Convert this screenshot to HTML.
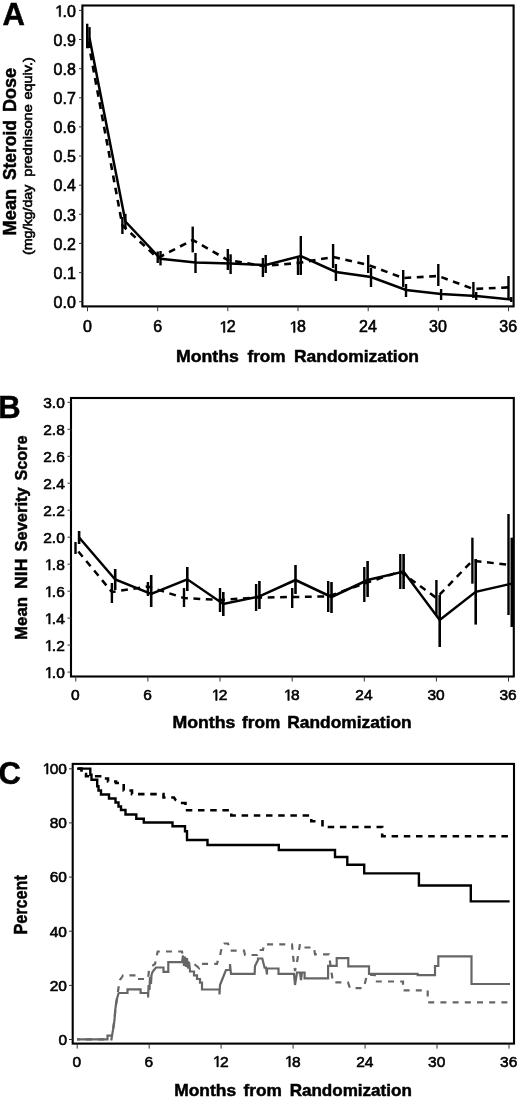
<!DOCTYPE html>
<html><head><meta charset="utf-8"><title>Figure</title>
<style>
html,body{margin:0;padding:0;background:#fff;}
svg{display:block;}
text{font-family:"Liberation Sans", sans-serif;fill:#000;}
.r{stroke:#000;stroke-width:0.6px;}
.b{stroke:#000;stroke-width:0.5px;}
</style></head>
<body>
<svg width="520" height="1097" viewBox="0 0 520 1097">
<defs><filter id="soft" x="0" y="0" width="520" height="1097" filterUnits="userSpaceOnUse"><feGaussianBlur stdDeviation="0.4"/></filter></defs>
<rect x="0" y="0" width="520" height="1097" fill="#fff"/>
<g filter="url(#soft)">
<rect x="82.4" y="5.5" width="431.2" height="300.9" fill="none" stroke="#000" stroke-width="2.1"/>
<line x1="79.0" y1="301.7" x2="82.4" y2="301.7" stroke="#333" stroke-width="1" />
<text x="75.8" y="307.9" font-size="16" text-anchor="end" class="r">0.0</text>
<line x1="79.0" y1="272.6" x2="82.4" y2="272.6" stroke="#333" stroke-width="1" />
<text x="75.8" y="278.8" font-size="16" text-anchor="end" class="r">0.1</text>
<line x1="79.0" y1="243.4" x2="82.4" y2="243.4" stroke="#333" stroke-width="1" />
<text x="75.8" y="249.6" font-size="16" text-anchor="end" class="r">0.2</text>
<line x1="79.0" y1="214.3" x2="82.4" y2="214.3" stroke="#333" stroke-width="1" />
<text x="75.8" y="220.5" font-size="16" text-anchor="end" class="r">0.3</text>
<line x1="79.0" y1="185.2" x2="82.4" y2="185.2" stroke="#333" stroke-width="1" />
<text x="75.8" y="191.4" font-size="16" text-anchor="end" class="r">0.4</text>
<line x1="79.0" y1="156.0" x2="82.4" y2="156.0" stroke="#333" stroke-width="1" />
<text x="75.8" y="162.2" font-size="16" text-anchor="end" class="r">0.5</text>
<line x1="79.0" y1="126.9" x2="82.4" y2="126.9" stroke="#333" stroke-width="1" />
<text x="75.8" y="133.1" font-size="16" text-anchor="end" class="r">0.6</text>
<line x1="79.0" y1="97.8" x2="82.4" y2="97.8" stroke="#333" stroke-width="1" />
<text x="75.8" y="104.0" font-size="16" text-anchor="end" class="r">0.7</text>
<line x1="79.0" y1="68.7" x2="82.4" y2="68.7" stroke="#333" stroke-width="1" />
<text x="75.8" y="74.9" font-size="16" text-anchor="end" class="r">0.8</text>
<line x1="79.0" y1="39.5" x2="82.4" y2="39.5" stroke="#333" stroke-width="1" />
<text x="75.8" y="45.7" font-size="16" text-anchor="end" class="r">0.9</text>
<line x1="79.0" y1="10.4" x2="82.4" y2="10.4" stroke="#333" stroke-width="1" />
<path d="M515 0V1237L197 1010V1180L530 1409H696V0Z" transform="translate(55.16,16.60) scale(0.007812,-0.007812)" fill="#000" stroke="#000" stroke-width="76.8"/>
<text x="62.46" y="16.6" font-size="16" class="r">.0</text>
<line x1="87.5" y1="306.4" x2="87.5" y2="311.2" stroke="#333" stroke-width="1" />
<text x="87.5" y="332.4" font-size="16" text-anchor="middle" class="r">0</text>
<line x1="157.7" y1="306.4" x2="157.7" y2="311.2" stroke="#333" stroke-width="1" />
<text x="157.7" y="332.4" font-size="16" text-anchor="middle" class="r">6</text>
<line x1="227.8" y1="306.4" x2="227.8" y2="311.2" stroke="#333" stroke-width="1" />
<path d="M515 0V1237L197 1010V1180L530 1409H696V0Z" transform="translate(219.43,332.40) scale(0.007812,-0.007812)" fill="#000" stroke="#000" stroke-width="76.8"/>
<text x="226.73" y="332.4" font-size="16" class="r">2</text>
<line x1="298.0" y1="306.4" x2="298.0" y2="311.2" stroke="#333" stroke-width="1" />
<path d="M515 0V1237L197 1010V1180L530 1409H696V0Z" transform="translate(289.59,332.40) scale(0.007812,-0.007812)" fill="#000" stroke="#000" stroke-width="76.8"/>
<text x="296.89" y="332.4" font-size="16" class="r">8</text>
<line x1="368.2" y1="306.4" x2="368.2" y2="311.2" stroke="#333" stroke-width="1" />
<text x="367.9" y="332.4" font-size="16" text-anchor="middle" class="r">24</text>
<line x1="438.3" y1="306.4" x2="438.3" y2="311.2" stroke="#333" stroke-width="1" />
<text x="438.0" y="332.4" font-size="16" text-anchor="middle" class="r">30</text>
<line x1="508.5" y1="306.4" x2="508.5" y2="311.2" stroke="#333" stroke-width="1" />
<text x="508.2" y="332.4" font-size="16" text-anchor="middle" class="r">36</text>
<text x="2.6" y="24.5" font-size="31" font-weight="bold" text-anchor="start" class="b">A</text>
<text x="176.02" y="361.90" font-size="17" font-weight="bold" textLength="62.91" lengthAdjust="spacingAndGlyphs" class="b">Months</text>
<text x="247.41" y="361.90" font-size="17" font-weight="bold" textLength="38.26" lengthAdjust="spacingAndGlyphs" class="b">from</text>
<text x="293.93" y="361.90" font-size="17" font-weight="bold" textLength="125.05" lengthAdjust="spacingAndGlyphs" class="b">Randomization</text>
<text transform="translate(15.80,234.20) rotate(-90)" x="-1.22" y="0" font-size="17.8" font-weight="bold" textLength="46.55" lengthAdjust="spacingAndGlyphs" class="b">Mean</text>
<text transform="translate(15.80,179.60) rotate(-90)" x="-0.50" y="0" font-size="17.8" font-weight="bold" textLength="60.05" lengthAdjust="spacingAndGlyphs" class="b">Steroid</text>
<text transform="translate(15.80,110.80) rotate(-90)" x="-1.21" y="0" font-size="17.8" font-weight="bold" textLength="44.12" lengthAdjust="spacingAndGlyphs" class="b">Dose</text>
<text transform="translate(32.20,254.20) rotate(-90)" x="-0.88" y="0" font-size="13.3" font-weight="normal" textLength="70.51" lengthAdjust="spacingAndGlyphs" class="r">(mg/kg/day</text>
<text transform="translate(32.20,175.80) rotate(-90)" x="-0.95" y="0" font-size="13.3" font-weight="normal" textLength="72.70" lengthAdjust="spacingAndGlyphs" class="r">prednisone</text>
<text transform="translate(32.20,99.00) rotate(-90)" x="-0.60" y="0" font-size="13.3" font-weight="normal" textLength="42.38" lengthAdjust="spacingAndGlyphs" class="r">equiv.)</text>
<polyline points="87.2,36.0 122.4,225.5 157.7,258.0 192.7,240.0 227.8,260.0 262.9,266.0 298.0,263.0 333.1,257.0 368.2,265.0 403.2,278.0 438.3,276.0 473.4,289.0 508.5,287.4" fill="none" stroke="#000" stroke-width="2.6" stroke-dasharray="6.8 5.6" stroke-linejoin="miter" stroke-linecap="butt" stroke-dashoffset="6.93"/>
<polyline points="89.5,38.0 125.4,221.5 160.5,258.8 195.5,262.4 230.6,263.5 265.7,265.0 300.8,256.0 335.9,272.0 371.0,277.0 406.0,290.0 441.1,294.0 476.2,296.0 511.3,299.4" fill="none" stroke="#000" stroke-width="2.5" stroke-linejoin="miter" stroke-linecap="butt" />
<line x1="87.2" y1="23.7" x2="87.2" y2="48.3" stroke="#000" stroke-width="2.4" />
<line x1="122.4" y1="217.0" x2="122.4" y2="234.0" stroke="#000" stroke-width="2.4" />
<line x1="157.7" y1="251.5" x2="157.7" y2="263.0" stroke="#000" stroke-width="2.4" />
<line x1="192.7" y1="226.6" x2="192.7" y2="252.4" stroke="#000" stroke-width="2.4" />
<line x1="227.8" y1="249.0" x2="227.8" y2="270.0" stroke="#000" stroke-width="2.4" />
<line x1="262.9" y1="258.0" x2="262.9" y2="277.0" stroke="#000" stroke-width="2.4" />
<line x1="298.0" y1="258.0" x2="298.0" y2="275.0" stroke="#000" stroke-width="2.4" />
<line x1="333.1" y1="244.0" x2="333.1" y2="268.0" stroke="#000" stroke-width="2.4" />
<line x1="368.2" y1="255.0" x2="368.2" y2="273.0" stroke="#000" stroke-width="2.4" />
<line x1="403.2" y1="270.0" x2="403.2" y2="287.0" stroke="#000" stroke-width="2.4" />
<line x1="438.3" y1="264.0" x2="438.3" y2="286.0" stroke="#000" stroke-width="2.4" />
<line x1="473.4" y1="282.0" x2="473.4" y2="298.0" stroke="#000" stroke-width="2.4" />
<line x1="508.5" y1="276.0" x2="508.5" y2="300.0" stroke="#000" stroke-width="2.4" />
<line x1="89.5" y1="27.1" x2="89.5" y2="47.0" stroke="#000" stroke-width="2.4" />
<line x1="125.4" y1="213.8" x2="125.4" y2="229.0" stroke="#000" stroke-width="2.4" />
<line x1="160.5" y1="251.0" x2="160.5" y2="265.4" stroke="#000" stroke-width="2.4" />
<line x1="195.5" y1="253.0" x2="195.5" y2="273.0" stroke="#000" stroke-width="2.4" />
<line x1="230.6" y1="254.3" x2="230.6" y2="274.0" stroke="#000" stroke-width="2.4" />
<line x1="265.7" y1="255.0" x2="265.7" y2="273.0" stroke="#000" stroke-width="2.4" />
<line x1="300.8" y1="236.0" x2="300.8" y2="275.0" stroke="#000" stroke-width="2.4" />
<line x1="335.9" y1="264.0" x2="335.9" y2="281.0" stroke="#000" stroke-width="2.4" />
<line x1="371.0" y1="268.0" x2="371.0" y2="287.0" stroke="#000" stroke-width="2.4" />
<line x1="406.0" y1="284.0" x2="406.0" y2="297.0" stroke="#000" stroke-width="2.4" />
<line x1="441.1" y1="289.0" x2="441.1" y2="300.0" stroke="#000" stroke-width="2.4" />
<line x1="476.2" y1="292.0" x2="476.2" y2="300.0" stroke="#000" stroke-width="2.4" />
<line x1="511.3" y1="297.0" x2="511.3" y2="302.0" stroke="#000" stroke-width="2.4" />
<rect x="71" y="398" width="442.8" height="278.5" fill="none" stroke="#000" stroke-width="2.1"/>
<line x1="67.5" y1="672.1" x2="71.0" y2="672.1" stroke="#333" stroke-width="1" />
<path d="M515 0V1237L197 1010V1180L530 1409H696V0Z" transform="translate(44.85,678.00) scale(0.007568,-0.007568)" fill="#000" stroke="#000" stroke-width="79.3"/>
<text x="51.87" y="678.0" font-size="15.5" class="r">.0</text>
<line x1="67.5" y1="645.1" x2="71.0" y2="645.1" stroke="#333" stroke-width="1" />
<path d="M515 0V1237L197 1010V1180L530 1409H696V0Z" transform="translate(44.85,651.02) scale(0.007568,-0.007568)" fill="#000" stroke="#000" stroke-width="79.3"/>
<text x="51.87" y="651.0" font-size="15.5" class="r">.2</text>
<line x1="67.5" y1="618.1" x2="71.0" y2="618.1" stroke="#333" stroke-width="1" />
<path d="M515 0V1237L197 1010V1180L530 1409H696V0Z" transform="translate(44.85,624.04) scale(0.007568,-0.007568)" fill="#000" stroke="#000" stroke-width="79.3"/>
<text x="51.87" y="624.0" font-size="15.5" class="r">.4</text>
<line x1="67.5" y1="591.2" x2="71.0" y2="591.2" stroke="#333" stroke-width="1" />
<path d="M515 0V1237L197 1010V1180L530 1409H696V0Z" transform="translate(44.85,597.06) scale(0.007568,-0.007568)" fill="#000" stroke="#000" stroke-width="79.3"/>
<text x="51.87" y="597.1" font-size="15.5" class="r">.6</text>
<line x1="67.5" y1="564.2" x2="71.0" y2="564.2" stroke="#333" stroke-width="1" />
<path d="M515 0V1237L197 1010V1180L530 1409H696V0Z" transform="translate(44.85,570.08) scale(0.007568,-0.007568)" fill="#000" stroke="#000" stroke-width="79.3"/>
<text x="51.87" y="570.1" font-size="15.5" class="r">.8</text>
<line x1="67.5" y1="537.2" x2="71.0" y2="537.2" stroke="#333" stroke-width="1" />
<text x="64.8" y="543.1" font-size="15.5" text-anchor="end" class="r">2.0</text>
<line x1="67.5" y1="510.2" x2="71.0" y2="510.2" stroke="#333" stroke-width="1" />
<text x="64.8" y="516.1" font-size="15.5" text-anchor="end" class="r">2.2</text>
<line x1="67.5" y1="483.2" x2="71.0" y2="483.2" stroke="#333" stroke-width="1" />
<text x="64.8" y="489.1" font-size="15.5" text-anchor="end" class="r">2.4</text>
<line x1="67.5" y1="456.3" x2="71.0" y2="456.3" stroke="#333" stroke-width="1" />
<text x="64.8" y="462.2" font-size="15.5" text-anchor="end" class="r">2.6</text>
<line x1="67.5" y1="429.3" x2="71.0" y2="429.3" stroke="#333" stroke-width="1" />
<text x="64.8" y="435.2" font-size="15.5" text-anchor="end" class="r">2.8</text>
<line x1="67.5" y1="402.3" x2="71.0" y2="402.3" stroke="#333" stroke-width="1" />
<text x="64.8" y="408.2" font-size="15.5" text-anchor="end" class="r">3.0</text>
<line x1="75.8" y1="676.5" x2="75.8" y2="681.5" stroke="#333" stroke-width="1" />
<text x="75.4" y="700.4" font-size="15.5" text-anchor="middle" class="r">0</text>
<line x1="147.9" y1="676.5" x2="147.9" y2="681.5" stroke="#333" stroke-width="1" />
<text x="147.5" y="700.4" font-size="15.5" text-anchor="middle" class="r">6</text>
<line x1="220.0" y1="676.5" x2="220.0" y2="681.5" stroke="#333" stroke-width="1" />
<path d="M515 0V1237L197 1010V1180L530 1409H696V0Z" transform="translate(211.82,700.40) scale(0.007568,-0.007568)" fill="#000" stroke="#000" stroke-width="79.3"/>
<text x="218.84" y="700.4" font-size="15.5" class="r">2</text>
<line x1="292.2" y1="676.5" x2="292.2" y2="681.5" stroke="#333" stroke-width="1" />
<path d="M515 0V1237L197 1010V1180L530 1409H696V0Z" transform="translate(283.94,700.40) scale(0.007568,-0.007568)" fill="#000" stroke="#000" stroke-width="79.3"/>
<text x="290.96" y="700.4" font-size="15.5" class="r">8</text>
<line x1="364.3" y1="676.5" x2="364.3" y2="681.5" stroke="#333" stroke-width="1" />
<text x="363.9" y="700.4" font-size="15.5" text-anchor="middle" class="r">24</text>
<line x1="436.4" y1="676.5" x2="436.4" y2="681.5" stroke="#333" stroke-width="1" />
<text x="436.0" y="700.4" font-size="15.5" text-anchor="middle" class="r">30</text>
<line x1="508.5" y1="676.5" x2="508.5" y2="681.5" stroke="#333" stroke-width="1" />
<text x="508.1" y="700.4" font-size="15.5" text-anchor="middle" class="r">36</text>
<text x="-1.8" y="418.0" font-size="31" font-weight="bold" text-anchor="start" class="b">B</text>
<text x="172.42" y="728.10" font-size="17" font-weight="bold" textLength="62.91" lengthAdjust="spacingAndGlyphs" class="b">Months</text>
<text x="242.01" y="728.10" font-size="17" font-weight="bold" textLength="38.26" lengthAdjust="spacingAndGlyphs" class="b">from</text>
<text x="287.34" y="728.10" font-size="17" font-weight="bold" textLength="124.34" lengthAdjust="spacingAndGlyphs" class="b">Randomization</text>
<text transform="translate(26.90,638.80) rotate(-90)" x="-1.12" y="0" font-size="17" font-weight="bold" textLength="42.86" lengthAdjust="spacingAndGlyphs" class="b">Mean</text>
<text transform="translate(26.90,587.80) rotate(-90)" x="-1.18" y="0" font-size="17" font-weight="bold" textLength="30.37" lengthAdjust="spacingAndGlyphs" class="b">NIH</text>
<text transform="translate(26.90,551.00) rotate(-90)" x="-0.47" y="0" font-size="17" font-weight="bold" textLength="64.16" lengthAdjust="spacingAndGlyphs" class="b">Severity</text>
<text transform="translate(26.90,480.00) rotate(-90)" x="-0.46" y="0" font-size="17" font-weight="bold" textLength="44.82" lengthAdjust="spacingAndGlyphs" class="b">Score</text>
<polyline points="75.5,548.0 111.9,592.0 147.9,586.5 184.0,598.0 220.0,600.0 256.1,597.6 292.2,597.0 328.2,596.4 364.3,583.5 400.3,571.6 436.4,598.0 472.4,560.7 508.5,564.8" fill="none" stroke="#000" stroke-width="2.5" stroke-dasharray="6.8 5.6" stroke-linejoin="miter" stroke-linecap="butt" stroke-dashoffset="7.94"/>
<polyline points="79.1,537.5 115.2,579.5 151.2,594.0 187.3,579.3 223.3,604.0 259.4,596.4 295.5,580.0 331.5,597.0 367.6,580.0 403.6,571.6 439.7,620.0 475.7,591.8 511.8,583.6" fill="none" stroke="#000" stroke-width="2.5" stroke-linejoin="miter" stroke-linecap="butt" />
<line x1="75.5" y1="542.0" x2="75.5" y2="554.0" stroke="#000" stroke-width="2.4" />
<line x1="111.9" y1="583.0" x2="111.9" y2="603.0" stroke="#000" stroke-width="2.4" />
<line x1="147.9" y1="582.0" x2="147.9" y2="596.0" stroke="#000" stroke-width="2.4" />
<line x1="184.0" y1="588.0" x2="184.0" y2="607.0" stroke="#000" stroke-width="2.4" />
<line x1="220.0" y1="588.0" x2="220.0" y2="612.0" stroke="#000" stroke-width="2.4" />
<line x1="256.1" y1="584.0" x2="256.1" y2="611.0" stroke="#000" stroke-width="2.4" />
<line x1="292.2" y1="588.0" x2="292.2" y2="608.0" stroke="#000" stroke-width="2.4" />
<line x1="328.2" y1="581.0" x2="328.2" y2="612.0" stroke="#000" stroke-width="2.4" />
<line x1="364.3" y1="567.0" x2="364.3" y2="602.0" stroke="#000" stroke-width="2.4" />
<line x1="400.3" y1="554.0" x2="400.3" y2="589.0" stroke="#000" stroke-width="2.4" />
<line x1="436.4" y1="580.0" x2="436.4" y2="616.0" stroke="#000" stroke-width="2.4" />
<line x1="472.4" y1="537.7" x2="472.4" y2="583.7" stroke="#000" stroke-width="2.4" />
<line x1="508.5" y1="514.0" x2="508.5" y2="615.0" stroke="#000" stroke-width="2.4" />
<line x1="79.1" y1="531.0" x2="79.1" y2="544.0" stroke="#000" stroke-width="2.6" />
<line x1="115.2" y1="569.0" x2="115.2" y2="590.0" stroke="#000" stroke-width="2.6" />
<line x1="151.2" y1="575.0" x2="151.2" y2="607.0" stroke="#000" stroke-width="2.6" />
<line x1="187.3" y1="567.0" x2="187.3" y2="591.0" stroke="#000" stroke-width="2.6" />
<line x1="223.3" y1="592.0" x2="223.3" y2="616.0" stroke="#000" stroke-width="2.6" />
<line x1="259.4" y1="581.0" x2="259.4" y2="609.0" stroke="#000" stroke-width="2.6" />
<line x1="295.5" y1="565.0" x2="295.5" y2="594.0" stroke="#000" stroke-width="2.6" />
<line x1="331.5" y1="582.0" x2="331.5" y2="613.0" stroke="#000" stroke-width="2.6" />
<line x1="367.6" y1="561.0" x2="367.6" y2="597.0" stroke="#000" stroke-width="2.6" />
<line x1="403.6" y1="554.0" x2="403.6" y2="589.0" stroke="#000" stroke-width="2.6" />
<line x1="439.7" y1="595.0" x2="439.7" y2="647.0" stroke="#000" stroke-width="2.6" />
<line x1="475.7" y1="559.0" x2="475.7" y2="624.6" stroke="#000" stroke-width="2.6" />
<line x1="511.8" y1="537.7" x2="511.8" y2="627.0" stroke="#000" stroke-width="2.6" />
<rect x="72.7" y="763.9" width="441.3" height="279.7" fill="none" stroke="#000" stroke-width="2.1"/>
<line x1="69.0" y1="1039.5" x2="72.7" y2="1039.5" stroke="#333" stroke-width="1" />
<text x="67.0" y="1044.8" font-size="15.5" text-anchor="end" class="r">0</text>
<line x1="69.0" y1="985.4" x2="72.7" y2="985.4" stroke="#333" stroke-width="1" />
<text x="67.0" y="990.7" font-size="15.5" text-anchor="end" class="r">20</text>
<line x1="69.0" y1="931.2" x2="72.7" y2="931.2" stroke="#333" stroke-width="1" />
<text x="67.0" y="936.5" font-size="15.5" text-anchor="end" class="r">40</text>
<line x1="69.0" y1="877.1" x2="72.7" y2="877.1" stroke="#333" stroke-width="1" />
<text x="67.0" y="882.4" font-size="15.5" text-anchor="end" class="r">60</text>
<line x1="69.0" y1="822.9" x2="72.7" y2="822.9" stroke="#333" stroke-width="1" />
<text x="67.0" y="828.2" font-size="15.5" text-anchor="end" class="r">80</text>
<line x1="69.0" y1="768.8" x2="72.7" y2="768.8" stroke="#333" stroke-width="1" />
<path d="M515 0V1237L197 1010V1180L530 1409H696V0Z" transform="translate(42.74,774.10) scale(0.007568,-0.007568)" fill="#000" stroke="#000" stroke-width="79.3"/>
<text x="49.76" y="774.1" font-size="15.5" class="r">00</text>
<line x1="77.2" y1="1043.6" x2="77.2" y2="1048.6" stroke="#333" stroke-width="1" />
<text x="76.9" y="1066.9" font-size="15.5" text-anchor="middle" class="r">0</text>
<line x1="149.2" y1="1043.6" x2="149.2" y2="1048.6" stroke="#333" stroke-width="1" />
<text x="148.9" y="1066.9" font-size="15.5" text-anchor="middle" class="r">6</text>
<line x1="221.1" y1="1043.6" x2="221.1" y2="1048.6" stroke="#333" stroke-width="1" />
<path d="M515 0V1237L197 1010V1180L530 1409H696V0Z" transform="translate(213.01,1066.90) scale(0.007568,-0.007568)" fill="#000" stroke="#000" stroke-width="79.3"/>
<text x="220.03" y="1066.9" font-size="15.5" class="r">2</text>
<line x1="293.1" y1="1043.6" x2="293.1" y2="1048.6" stroke="#333" stroke-width="1" />
<path d="M515 0V1237L197 1010V1180L530 1409H696V0Z" transform="translate(284.97,1066.90) scale(0.007568,-0.007568)" fill="#000" stroke="#000" stroke-width="79.3"/>
<text x="291.99" y="1066.9" font-size="15.5" class="r">8</text>
<line x1="365.1" y1="1043.6" x2="365.1" y2="1048.6" stroke="#333" stroke-width="1" />
<text x="364.8" y="1066.9" font-size="15.5" text-anchor="middle" class="r">24</text>
<line x1="437.0" y1="1043.6" x2="437.0" y2="1048.6" stroke="#333" stroke-width="1" />
<text x="436.7" y="1066.9" font-size="15.5" text-anchor="middle" class="r">30</text>
<line x1="509.0" y1="1043.6" x2="509.0" y2="1048.6" stroke="#333" stroke-width="1" />
<text x="508.7" y="1066.9" font-size="15.5" text-anchor="middle" class="r">36</text>
<text x="-1.5" y="784.1" font-size="31" font-weight="bold" text-anchor="start" class="b">C</text>
<text x="174.24" y="1095.80" font-size="17" font-weight="bold" textLength="61.88" lengthAdjust="spacingAndGlyphs" class="b">Months</text>
<text x="243.50" y="1095.80" font-size="17" font-weight="bold" textLength="38.37" lengthAdjust="spacingAndGlyphs" class="b">from</text>
<text x="289.66" y="1095.80" font-size="17" font-weight="bold" textLength="122.20" lengthAdjust="spacingAndGlyphs" class="b">Randomization</text>
<text transform="translate(26.80,933.40) rotate(-90)" x="-1.08" y="0" font-size="17.5" font-weight="bold" textLength="59.38" lengthAdjust="spacingAndGlyphs" class="b">Percent</text>
<polyline points="77.0,1039.3 107.5,1039.3 107.5,1035.6 112.0,1035.6 113.0,1030.0 114.5,1020.0 115.2,1010.0 116.2,1003.0 117.2,998.0 118.5,993.5 119.0,993.0 127.5,993.0 127.5,989.4 140.6,989.4 140.6,993.0 148.1,993.0 148.1,997.5 148.6,985.0 149.5,990.0 150.0,977.0 151.0,984.0 151.5,975.0 152.5,972.0 154.0,970.0 156.0,967.5 163.5,967.5 163.5,971.8 168.3,971.8 168.3,962.2 182.0,962.2 183.0,955.5 184.0,966.0 185.0,956.5 186.0,967.0 187.0,958.0 188.0,968.5 189.0,962.0 190.0,970.0 190.0,971.5 194.0,971.5 194.0,975.4 197.0,975.4 197.0,979.0 200.0,979.0 200.0,982.7 202.0,982.7 202.0,989.5 219.5,989.5 219.5,994.5 220.0,985.0 222.0,980.0 224.0,975.0 226.0,970.0 230.0,970.0 230.0,964.0 231.0,973.8 254.6,973.8 255.0,966.0 258.0,960.0 258.0,958.5 262.3,958.5 264.6,967.7 266.0,967.7 267.0,974.6 267.0,968.5 278.5,968.5 278.5,973.9 294.0,973.9 295.0,985.0 297.0,972.5 300.0,972.5 301.0,980.0 302.0,972.5 304.6,972.5 304.6,978.3 328.1,978.3 328.1,965.8 336.7,965.8 336.7,958.2 348.3,958.2 348.3,966.4 369.0,966.4 369.0,973.8 417.7,973.8 417.7,975.1 435.0,975.1 435.0,966.0 438.3,966.0 438.3,956.3 471.5,956.3 471.5,984.0 510.0,984.0" fill="none" stroke="#666" stroke-width="2.2" stroke-linejoin="miter" stroke-linecap="butt" />
<polyline points="77.0,1039.3 111.5,1039.3 112.0,1035.6 113.0,1030.0 114.5,1020.0 115.5,1008.0 117.0,998.0 118.5,988.0 120.0,980.0 122.0,977.0 123.0,975.3 136.0,975.3 136.0,979.0 148.0,979.0 149.0,970.0 152.0,966.0 155.0,964.0 157.7,951.5 182.0,951.5 183.0,958.0 186.0,962.0 193.0,963.0 199.0,968.0 200.0,963.8 217.0,963.8 218.0,960.0 220.0,956.0 222.0,946.0 224.0,943.5 228.0,943.5 230.0,950.6 244.0,950.6 245.0,955.0 257.0,955.0 258.0,950.0 263.0,950.0 264.0,944.3 292.0,944.3 293.0,956.0 295.0,971.0 297.0,962.0 300.0,944.0 303.0,947.5 314.0,947.5 315.0,954.3 329.0,954.3 330.0,962.0 333.0,982.3 348.0,982.3 350.0,988.2 363.0,988.2 365.0,983.0 367.0,975.0 374.8,975.0 374.8,981.5 403.0,981.5 403.0,990.3 427.7,990.3 427.7,1002.3 510.0,1002.3" fill="none" stroke="#666" stroke-width="2.2" stroke-dasharray="6 6.2" stroke-linejoin="miter" stroke-linecap="butt" stroke-dashoffset="3.32"/>
<polyline points="77.0,768.6 90.3,768.6 90.3,774.8 91.5,774.8 91.5,779.8 97.2,779.8 97.2,786.3 98.5,786.3 98.5,790.5 101.0,790.5 101.0,794.5 109.0,794.5 109.0,798.5 115.5,798.5 115.5,802.5 118.5,802.5 118.5,806.5 121.0,806.5 121.0,810.0 125.5,810.0 125.5,814.5 136.3,814.5 136.3,818.7 143.8,818.7 143.8,822.5 172.5,822.5 172.5,826.3 185.0,826.3 185.0,831.3 187.0,831.3 187.0,840.0 207.5,840.0 207.5,845.0 278.8,845.0 278.8,850.0 335.0,850.0 335.0,857.0 347.3,857.0 347.3,864.7 364.2,864.7 364.2,873.4 418.9,873.4 418.9,885.5 470.8,885.5 470.8,901.4 509.6,901.4" fill="none" stroke="#000" stroke-width="2.4" stroke-linejoin="miter" stroke-linecap="butt" />
<polyline points="77.0,768.6 81.5,768.6 81.5,774.0 86.0,774.0 86.0,776.2 102.0,776.2 102.0,778.5 108.0,778.5 108.0,781.5 116.0,781.5 116.0,783.0 123.7,783.0 123.7,790.5 132.0,790.5 132.0,794.1 163.5,794.1 163.5,797.5 174.0,797.5 175.5,800.0 179.0,803.0 185.5,803.0 185.5,810.3 231.3,810.3 231.3,815.5 311.3,815.5 311.3,821.3 322.5,821.3 322.5,827.0 382.2,827.0 382.2,836.3 509.6,836.3" fill="none" stroke="#000" stroke-width="2.6" stroke-dasharray="6.5 5.7" stroke-linejoin="miter" stroke-linecap="butt" stroke-dashoffset="11.07"/>
</g>
</svg>
</body></html>
